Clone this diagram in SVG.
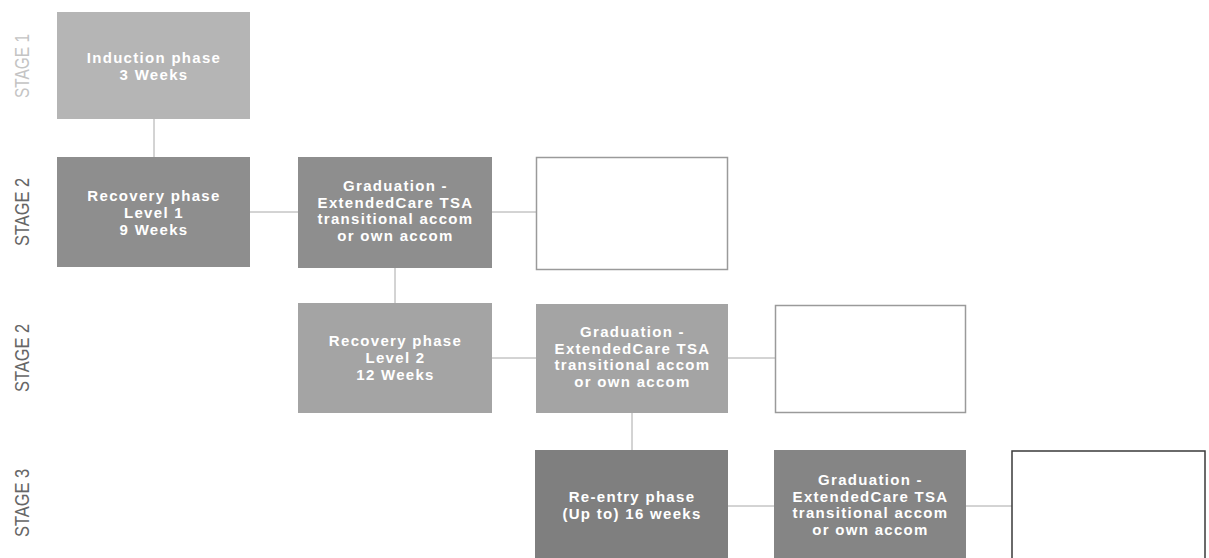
<svg xmlns="http://www.w3.org/2000/svg" width="1209" height="558" viewBox="0 0 1209 558">
<style>
.box text{font-family:"Liberation Sans",Arial,sans-serif;font-weight:bold;font-size:15px;letter-spacing:1.3px;fill:#ffffff;text-anchor:middle}
.empty{fill:#ffffff;stroke:#9a9a9a;stroke-width:1.5}
.conn line{stroke:#a8a8a8;stroke-width:1}
.stage{font-family:"Liberation Sans",Arial,sans-serif;font-size:21px;text-anchor:middle;fill:#666666}
</style>
<rect width="1209" height="558" fill="#ffffff"/>
<g id="stage-labels">
<text class="stage" style="fill:#c4c4c4" transform="translate(28.5,66) rotate(-90)" textLength="64" lengthAdjust="spacingAndGlyphs">STAGE 1</text>
<text class="stage" transform="translate(28.5,212) rotate(-90)" textLength="68" lengthAdjust="spacingAndGlyphs">STAGE 2</text>
<text class="stage" transform="translate(28.5,358) rotate(-90)" textLength="68" lengthAdjust="spacingAndGlyphs">STAGE 2</text>
<text class="stage" transform="translate(28.5,503) rotate(-90)" textLength="68" lengthAdjust="spacingAndGlyphs">STAGE 3</text>
</g>
<g id="connectors" class="conn">
<line x1="154" y1="118" x2="154" y2="157"/>
<line x1="250" y1="212" x2="298" y2="212"/>
<line x1="492" y1="212" x2="536" y2="212"/>
<line x1="395" y1="268" x2="395" y2="303"/>
<line x1="492" y1="358" x2="536" y2="358"/>
<line x1="728" y1="358" x2="775" y2="358"/>
<line x1="632" y1="413" x2="632" y2="450"/>
<line x1="728" y1="506" x2="774" y2="506"/>
<line x1="966" y1="506" x2="1012" y2="506"/>
</g>
<g id="induction" class="box">
<rect x="57" y="12" width="193" height="107" fill="#b5b5b5"/>
<text x="154" y="63">Induction phase</text>
<text x="154" y="80">3 Weeks</text>
</g>
<g id="recovery1" class="box">
<rect x="57" y="157" width="193" height="110" fill="#8e8e8e"/>
<text x="154" y="201">Recovery phase</text>
<text x="154" y="218">Level 1</text>
<text x="154" y="235">9 Weeks</text>
</g>
<g id="graduation1" class="box">
<rect x="298" y="157" width="194" height="111" fill="#8e8e8e"/>
<text x="395.5" y="191">Graduation -</text>
<text x="395.5" y="207.5">ExtendedCare TSA</text>
<text x="395.5" y="224">transitional accom</text>
<text x="395.5" y="240.5">or own accom</text>
</g>
<g id="outcome1">
<rect class="empty" x="536.5" y="157.5" width="191" height="112"/>
</g>
<g id="recovery2" class="box">
<rect x="298" y="303" width="194" height="110" fill="#a4a4a4"/>
<text x="395.5" y="346">Recovery phase</text>
<text x="395.5" y="363">Level 2</text>
<text x="395.5" y="380">12 Weeks</text>
</g>
<g id="graduation2" class="box">
<rect x="536" y="304" width="192" height="109" fill="#a4a4a4"/>
<text x="632.5" y="337">Graduation -</text>
<text x="632.5" y="353.5">ExtendedCare TSA</text>
<text x="632.5" y="370">transitional accom</text>
<text x="632.5" y="386.5">or own accom</text>
</g>
<g id="outcome2">
<rect class="empty" x="775.5" y="305.5" width="190" height="107"/>
</g>
<g id="reentry" class="box">
<rect x="535" y="450" width="193" height="112" fill="#7f7f7f"/>
<text x="632" y="502">Re-entry phase</text>
<text x="632" y="519">(Up to) 16 weeks</text>
</g>
<g id="graduation3" class="box">
<rect x="774" y="450" width="192" height="112" fill="#858585"/>
<text x="870.5" y="485">Graduation -</text>
<text x="870.5" y="501.5">ExtendedCare TSA</text>
<text x="870.5" y="518">transitional accom</text>
<text x="870.5" y="534.5">or own accom</text>
</g>
<g id="outcome3">
<rect class="empty" style="stroke:#3a3a3a" x="1012" y="451" width="193" height="112"/>
</g>
</svg>
